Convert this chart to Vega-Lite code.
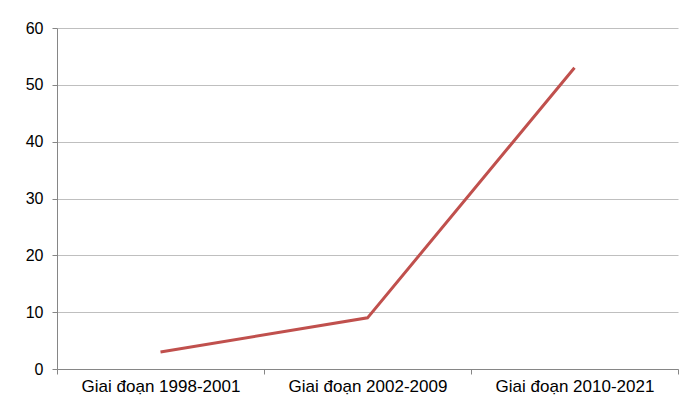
{
  "$schema": "https://vega.github.io/schema/vega-lite/v6.json",
  "width": 621,
  "height": 341,
  "autosize": {"type": "none"},
  "padding": {"left": 57, "top": 28, "right": 6, "bottom": 32},
  "background": "white",
  "config": {"view": {"stroke": null}},
  "data": {"values": [
    {"giai_doan": "Giai đoạn 1998-2001", "value": 3},
    {"giai_doan": "Giai đoạn 2002-2009", "value": 9},
    {"giai_doan": "Giai đoạn 2010-2021", "value": 53}
  ]},
  "mark": {"type": "line", "color": "#c0504d", "strokeWidth": 3},
  "encoding": {
    "x": {
      "field": "giai_doan", "type": "nominal", "sort": null,
      "scale": {"type": "band", "paddingInner": 0, "paddingOuter": 0},
      "axis": {"title": null, "labelAngle": 0, "tickBand": "extent", "grid": false,
        "domainColor": "#868686", "tickColor": "#868686", "tickSize": 5,
        "labelFont": "Liberation Sans", "labelFontSize": 17, "labelColor": "#000000", "labelPadding": 4}
    },
    "y": {
      "field": "value", "type": "quantitative",
      "scale": {"domain": [0, 60]},
      "axis": {"title": null, "values": [0, 10, 20, 30, 40, 50, 60], "grid": true, "gridColor": "#bfbfbf",
        "domainColor": "#868686", "tickColor": "#868686", "tickSize": 5,
        "labelFont": "Liberation Sans", "labelFontSize": 16, "labelColor": "#000000", "labelPadding": 9}
    }
  }
}
